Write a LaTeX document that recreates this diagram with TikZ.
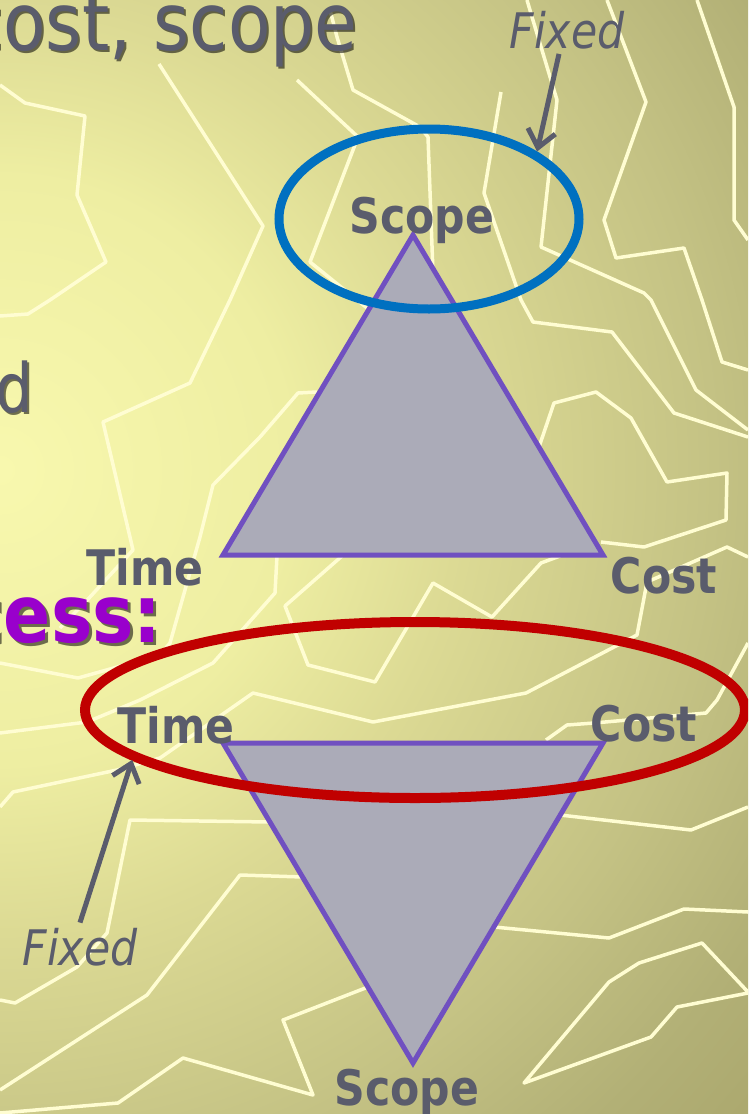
\documentclass[tikz,border=0pt]{standalone}
\usepackage{fontspec}
\setmainfont{DejaVu Sans}[FakeStretch=0.87]
\usetikzlibrary{arrows.meta,shapes.geometric}
\definecolor{slidegray}{HTML}{5A5C6C}
\definecolor{slidepurple}{HTML}{9900CC}
\definecolor{triedge}{HTML}{7050C0}
\definecolor{trifill}{HTML}{ABABB8}
\definecolor{ringblue}{HTML}{0070C0}
\definecolor{ringred}{HTML}{C00000}
\definecolor{bgline}{HTML}{FFFDD2}
\definecolor{bgA}{HTML}{F8F8AE}
\definecolor{bgB}{HTML}{EEEEA2}
\definecolor{bgC}{HTML}{DCDA94}
\definecolor{bgD}{HTML}{C4C284}
\definecolor{bgE}{HTML}{B2B076}
\definecolor{bgF}{HTML}{A8A46A}
\pgfdeclareradialshading{slidebg}{\pgfpoint{0bp}{0bp}}{color(0bp)=(bgA); color(7bp)=(bgB); color(11bp)=(bgC); color(17bp)=(bgD); color(21bp)=(bgE); color(25bp)=(bgF); color(50bp)=(bgF)}
\tikzset{
  contour/.style={draw=bgline, line width=3.5pt, line join=round},
  tri/.style={draw=triedge, fill=trifill, line width=5pt, line join=miter},
  ring/.style={ellipse, draw, inner sep=0pt},
  corner/.style={text=slidegray, inner sep=0pt, font=\fontsize{49}{50}\selectfont\bfseries},
  fixlbl/.style={text=slidegray, inner sep=5pt, font=\fontsize{49}{50}\selectfont\itshape},
  fixarrow/.style={draw=slidegray, line width=5pt, -{Straight Barb[length=17pt,width=28pt]}},
  heading/.style={text=slidegray, inner sep=0pt, font=\fontsize{80}{90}\selectfont},
  bodytext/.style={text=slidegray, inner sep=0pt, font=\fontsize{68}{80}\selectfont},
  keyword/.style={text=slidepurple, inner sep=0pt, font=\fontsize{80}{90}\selectfont\bfseries},
  dropshadow/.style={text=black, opacity=0.55}
}
\begin{document}
\begin{tikzpicture}[x=1pt, y=-1pt]
  \useasboundingbox (0,0) rectangle (748,1114);
  \clip (0,0) rectangle (748,1114);
  % slide background
  \shade[shading=slidebg] (0,470) circle (1050);
  \draw[contour] (0,85) -- (25,103) -- (85,116) -- (77,195) -- (106,262) -- (50,300) -- (28,314) -- (0,316);
  \draw[contour] (159,64) -- (263,226) -- (230,300) -- (190,383) -- (103,422) -- (133,550) -- (90,597) -- (60,628);
  \draw[contour] (330,10) -- (337,37) -- (353,90) -- (420,127) -- (428,137) -- (434,300);
  \draw[contour] (297,80) -- (358,137) -- (310,262) -- (372,312);
  \draw[contour] (501,92) -- (484,193) -- (521,300) -- (533,322) -- (612,332) -- (674,413) -- (748,437);
  \draw[contour] (527,0) -- (532,17) -- (557,100) -- (541,247) -- (644,293) -- (651,300) -- (696,390) -- (748,430);
  \draw[contour] (607,0) -- (646,102) -- (604,220) -- (616,258) -- (684,248) -- (702,300) -- (722,362) -- (748,370);
  \draw[contour] (697,0) -- (734,107) -- (734,220) -- (748,240);
  \draw[contour] (539,447) -- (554,403) -- (596,392) -- (631,418) -- (667,482) -- (727,473) -- (726,520) -- (644,547) -- (601,542);
  \draw[contour] (317,392) -- (298,393) -- (260,437) -- (213,485) -- (200,537) -- (170,643) -- (160,655) -- (78,678) -- (0,663);
  \draw[contour] (277,556) -- (275,593) -- (213,663) -- (140,700) -- (87,722) -- (0,733);
  \draw[contour] (342,556) -- (285,606) -- (308,665) -- (375,682) -- (433,583) -- (492,617) -- (541,563) -- (560,556);
  \draw[contour] (0,807) -- (13,792) -- (117,770) -- (160,758) -- (253,693) -- (373,722) -- (526,693) -- (637,635) -- (647,582) -- (727,547) -- (748,557);
  \draw[contour] (748,643) -- (717,700) -- (706,713) -- (594,723) -- (567,725) -- (546,740);
  \draw[contour] (270,822) -- (130,820) -- (107,933) -- (77,967) -- (15,1003) -- (0,1000);
  \draw[contour] (303,877) -- (240,875) -- (147,995) -- (0,1090);
  \draw[contour] (368,987) -- (283,1020) -- (313,1095) -- (183,1058) -- (118,1103) -- (0,1113);
  \draw[contour] (560,815) -- (691,830) -- (748,807);
  \draw[contour] (494,927) -- (609,938) -- (684,909) -- (748,912);
  \draw[contour] (748,992) -- (702,943) -- (639,963) -- (609,982) -- (524,1083) -- (651,1037) -- (677,1007) -- (748,993);
  % slide text behind the diagram
  \node[heading, dropshadow, anchor=base east] (titleshade) at (360,52) {cost, scope};
  \node[heading, anchor=base east] (title) at (358,50) {cost, scope};
  \node[bodytext, dropshadow, anchor=base east] (bodyshade) at (35,414) {d};
  \node[bodytext, anchor=base east] (body) at (33,412) {d};
  \node[keyword, dropshadow, anchor=base east] (processshade) at (165,645) {cess:};
  \node[keyword, anchor=base east] (process) at (162,642) {cess:};
  % triangles
  \coordinate (uptop) at (413,235);
  \coordinate (upleft) at (223,555);
  \coordinate (upright) at (603,555);
  \coordinate (downleft) at (223,743);
  \coordinate (downright) at (603,743);
  \coordinate (downtip) at (413,1063);
  \draw[tri] (uptop) -- (upleft) -- (upright) -- cycle;
  \draw[tri] (downleft) -- (downright) -- (downtip) -- cycle;
  % fixed constraints
  \node[ring, draw=ringblue, line width=9pt, minimum width=300pt, minimum height=180pt] (scopering) at (429,219) {};
  \node[ring, draw=ringred, line width=10pt, minimum width=660pt, minimum height=176pt] (timering) at (415,710) {};
  \node[fixlbl, anchor=base] (fixtop) at (567,48) {Fixed};
  \node[fixlbl, anchor=base] (fixbot) at (80,965) {Fixed};
  \draw[fixarrow] ([xshift=-8pt]fixtop.south) -- (scopering.32);
  \draw[fixarrow] (fixbot.north) -- (timering.190);
  % corner labels
  \node[corner, anchor=base] (scopeup) at (422,233) {Scope};
  \node[corner, anchor=base] (timeup) at (145,585) {Time};
  \node[corner, anchor=base] (costup) at (664,593) {Cost};
  \node[corner, anchor=base] (timedown) at (176,743) {Time};
  \node[corner, anchor=base] (costdown) at (644,741) {Cost};
  \node[corner, anchor=base] (scopedown) at (407,1105) {Scope};
\end{tikzpicture}
\end{document}
